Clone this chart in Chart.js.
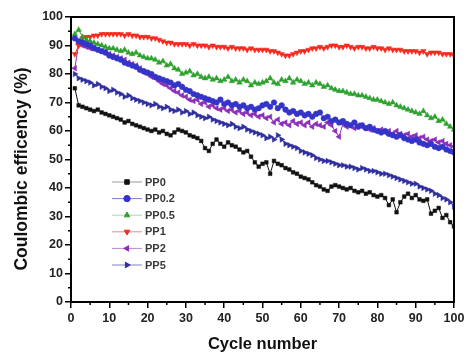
<!DOCTYPE html>
<html>
<head>
<meta charset="utf-8">
<script src="https://cdn.jsdelivr.net/npm/chart.js@4.4.1/dist/chart.umd.min.js"></script>
<style>
  body { margin: 0; background: #fff; }
  #wrap { width: 468px; height: 353px; position: relative; }
</style>
</head>
<body>
<div id="wrap"><canvas id="graph"></canvas></div>
<script>
  // cycle numbers 1..100
  const cycles = Array.from({ length: 100 }, (_, i) => i + 1);

  // coulombic efficiency (%) per cycle
  const pp0 = [
    75, 69, 68.5, 68, 67.5, 67, 67.5, 66.5, 66, 65.5,
    65, 64.5, 64, 63, 63.5, 62.5, 62, 61.5, 61, 60.5,
    60, 60.5, 59.5, 60, 59, 58.5, 59.5, 60.5, 60, 59.5,
    58.5, 58, 57.5, 56.5, 54, 53, 55.5, 57, 55.5, 54.5,
    56, 55, 54.5, 53.5, 52.5, 53, 51, 49, 47.5, 48.5,
    49, 45, 49.5, 48.5, 48, 47, 46.5, 45.5, 45, 44,
    43.5, 43, 42, 41, 40.5, 39.5, 39, 40.5, 41, 40.5,
    40, 39.5, 40, 39, 38.5, 39, 38, 38.5, 37.5, 37,
    37.5, 36.5, 34, 36, 31.5, 35, 37, 38, 36.5, 37.5,
    36, 35.5, 36, 31, 32, 33, 29.5, 30.5, 28, 26.5
  ];
  const pp02 = [
    92.5, 91.5, 91, 90.5, 90, 89, 88.5, 88, 87.5, 86.5,
    86, 85.5, 85, 84, 83.5, 83, 82.5, 81.5, 81, 80.5,
    80, 79, 78.5, 78, 77.5, 77, 76, 76.5, 75.5, 74.5,
    74, 73, 72.5, 72, 71.5, 71, 70.5, 70, 71, 69.5,
    70, 69, 69.5, 68.5, 69, 68, 68.5, 67.5, 68, 69,
    69.5, 68.5, 70, 68, 69, 67.5, 66.5, 67, 66, 66.5,
    65.5, 66, 65, 66, 66.5, 64.5, 65, 63.5, 64, 63,
    63.5, 62.5, 62, 63, 61.5, 62, 61, 61.5, 60.5, 60,
    59.5, 60, 59, 58.5, 58, 58.5, 57.5, 57, 56.5, 57,
    56, 55.5, 55, 55.5, 54.5, 54, 54.5, 53.5, 53, 52.5
  ];
  const pp05 = [
    94, 95.5, 93, 92, 91.5, 91, 90.5, 90, 89.5, 89,
    89, 88.5, 88, 88.5, 87.5, 87, 87.5, 86.5, 86, 85.5,
    85.5, 85, 84, 84.5, 83, 83.5, 82, 81.5, 80, 80.5,
    81, 79.5, 80, 79, 78.5, 79, 78, 78.5, 77.5, 78,
    79, 77.5, 78, 77, 78, 77.5, 76, 77, 76.5, 77,
    77.5, 78.5, 77, 76.5, 78, 77.5, 78.5, 77, 78, 77.5,
    76.5, 77, 76, 77, 76.5, 75.5, 76, 75, 74.5, 74,
    74, 73.5, 73, 73, 72.5, 72.5, 72, 71.5, 71, 71,
    70.5, 70, 69.5, 70, 69, 68.5, 68, 67.5, 67, 66.5,
    66, 67, 65.5, 64.5, 65, 63.5, 64, 62.5, 61.5, 60.5
  ];
  const pp1 = [
    87, 90, 92.5, 93, 93, 93.5, 93.5, 94, 94, 94,
    94, 94, 94, 93.5, 94, 93.5, 93.5, 93, 93, 93,
    92.5, 92.5, 92, 91.5, 91, 91, 90.5, 90.5, 90.5, 90.5,
    90, 90.5, 90, 90, 90, 89.5, 90, 89.5, 89.5, 89.5,
    89, 89.5, 89, 89, 89, 88.5, 89, 88.5, 88.5, 88.5,
    88.5, 88, 88, 87.5, 87, 86.5, 86.5, 87, 87.5, 88,
    88, 88.5, 89, 89, 89.5, 89, 89.5, 90, 90, 89.5,
    89.5, 90, 89.5, 89, 89.5, 89.5, 89, 89, 89.5, 89,
    89, 88.5, 89, 88.5, 88.5, 88.5, 88, 88, 88, 88,
    87.5, 88, 87, 87.5, 87.5, 87.5, 87, 87, 87, 86.5
  ];
  const pp2 = [
    82, 90.5, 90, 89.5, 89, 89.5, 88.5, 88, 88, 87,
    86.5, 86, 85.5, 85, 84, 83.5, 83, 82, 80.5, 80,
    79, 78.5, 77.5, 76.5, 76, 75, 74, 73.5, 72.5, 72,
    71, 70.5, 71, 69.5, 70, 68.5, 69, 68, 67.5, 68,
    67, 67.5, 66.5, 67, 66, 66.5, 65.5, 66, 65, 65.5,
    64.5, 65, 63, 64, 62.5, 63, 62, 63.5, 62.5, 63,
    62, 63, 61.5, 62.5, 62, 61.5, 63, 62, 60, 58,
    62.5, 61.5, 62, 61, 62, 61.5, 61, 60.5, 61, 60,
    60.5, 59.5, 60, 59, 60, 59, 58.5, 59, 58, 58.5,
    57.5, 58, 57, 56.5, 57, 56, 56.5, 55.5, 55, 54.5
  ];
  const pp5 = [
    80, 78.5, 78, 77.5, 77, 76, 76.5, 75.5, 75, 74,
    74.5, 73.5, 73, 72, 72.5, 71.5, 71, 70.5, 70, 69.5,
    69, 69.5, 68.5, 68, 68.5, 67.5, 67, 67.5, 66.5, 67,
    66, 66.5, 65.5, 65, 64.5, 65, 64, 63.5, 63, 62.5,
    62, 62.5, 61.5, 61, 61.5, 60.5, 60, 59.5, 59, 58.5,
    57.5, 58, 57, 58.5, 57, 55.5, 55, 54.5, 54, 53,
    52.5, 52, 51.5, 50.5, 50, 49.5, 49.5, 49, 48.5, 48,
    48, 47.5, 47.5, 47, 46.5, 47, 46.5, 46, 46, 45.5,
    45, 45, 44.5, 44, 43.5, 43, 42.5, 42, 41.5, 41.5,
    40.5, 40, 39.5, 39, 38, 37.5, 36.5, 36, 35, 33.5
  ];

  const seriesNames = ['PP0', 'PP0.2', 'PP0.5', 'PP1', 'PP2', 'PP5'];
  const seriesValues = [pp0, pp02, pp05, pp1, pp2, pp5];
  const seriesColors = ['#111111', '#3434c8', '#2ea12e', '#f52a1f', '#8b2fb8', '#2e2e9e'];
  const legendLineColors = ['#9a9a9a', '#7a7ad8', '#a8d8a8', '#f08a80', '#b88ad0', '#8080c0'];
  const pointStyles = ['rect', 'circle', 'triangle', 'triangle', 'triangle', 'triangle'];
  const pointRotations = [0, 0, 0, 180, 270, 90];
  const pointSizes = [2.6, 2.8, 3.2, 3.2, 3.2, 3.2];

  const datasets = seriesNames.map((name, k) => ({
    label: name,
    data: seriesValues[k].map((v, i) => ({ x: cycles[i], y: v })),
    borderColor: seriesColors[k],
    backgroundColor: seriesColors[k],
    pointBackgroundColor: seriesColors[k],
    pointBorderColor: seriesColors[k],
    borderWidth: 1,
    pointRadius: pointSizes[k],
    pointBorderWidth: 0.5,
    pointStyle: pointStyles[k],
    rotation: pointRotations[k],
    tension: 0
  }));

  const fontFamily = '"Liberation Sans", Arial, sans-serif';

  // frame, minor ticks, y title and legend
  const framePlugin = {
    id: 'frame',
    afterDraw(chart) {
      const { ctx, chartArea: a, scales } = chart;
      ctx.save();
      ctx.strokeStyle = '#000';
      ctx.lineWidth = 2;
      ctx.strokeRect(a.left, a.top, a.right - a.left, a.bottom - a.top);

      // minor ticks at the 5s
      ctx.lineWidth = 1.5;
      ctx.beginPath();
      for (let v = 5; v < 100; v += 10) {
        const px = scales.x.getPixelForValue(v);
        ctx.moveTo(px, a.bottom);
        ctx.lineTo(px, a.bottom + 3);
        const py = scales.y.getPixelForValue(v);
        ctx.moveTo(a.left, py);
        ctx.lineTo(a.left - 3, py);
      }
      ctx.stroke();

      // y axis title
      ctx.save();
      ctx.translate(22.5, 169);
      ctx.rotate(-Math.PI / 2);
      ctx.font = 'bold 17.5px ' + fontFamily;
      ctx.fillStyle = '#111';
      ctx.textAlign = 'center';
      ctx.textBaseline = 'middle';
      ctx.fillText('Coulombic efficency (%)', 0, 0);
      ctx.restore();

      // legend
      ctx.font = 'bold 11px ' + fontFamily;
      ctx.textBaseline = 'middle';
      seriesNames.forEach((name, k) => {
        const y = 182 + k * 16.6;
        ctx.strokeStyle = legendLineColors[k];
        ctx.lineWidth = 1;
        ctx.beginPath();
        ctx.moveTo(112, y);
        ctx.lineTo(142, y);
        ctx.stroke();
        ctx.fillStyle = seriesColors[k];
        ctx.strokeStyle = seriesColors[k];
        Chart.helpers.drawPoint(ctx, {
          pointStyle: pointStyles[k],
          rotation: pointRotations[k],
          radius: 3.2,
          borderWidth: 0.5
        }, 127, y);
        ctx.fillStyle = '#3a3a3a';
        ctx.fillText(name, 145, y + 0.5);
      });
      ctx.restore();
    }
  };

  const tickFont = { family: fontFamily, size: 12.5, weight: 'bold' };
  const titleFont = { family: fontFamily, size: 16.5, weight: 'bold', lineHeight: 1 };

  new Chart(document.getElementById('graph'), {
    type: 'line',
    data: { datasets: datasets },
    options: {
      responsive: true,
      maintainAspectRatio: false,
      animation: false,
      layout: { padding: { top: 17, right: 14, left: 0, bottom: 0 } },
      plugins: { legend: { display: false }, tooltip: { enabled: false } },
      scales: {
        x: {
          type: 'linear',
          min: 0,
          max: 100,
          afterFit: (s) => { s.height = 51; },
          ticks: {
            stepSize: 10,
            autoSkip: false,
            maxRotation: 0,
            color: '#222',
            font: tickFont,
            padding: 3
          },
          grid: { drawOnChartArea: false, tickLength: 6, color: '#000', lineWidth: 1.5 },
          border: { display: false },
          title: { display: true, text: 'Cycle number', color: '#111', font: titleFont, padding: { top: 0, bottom: 0 } }
        },
        y: {
          min: 0,
          max: 100,
          afterFit: (s) => { s.width = 71; },
          ticks: {
            stepSize: 10,
            autoSkip: false,
            color: '#222',
            font: tickFont,
            padding: 2
          },
          grid: { drawOnChartArea: false, tickLength: 6, color: '#000', lineWidth: 1.5 },
          border: { display: false }
        }
      }
    },
    plugins: [framePlugin]
  });
</script>
</body>
</html>
